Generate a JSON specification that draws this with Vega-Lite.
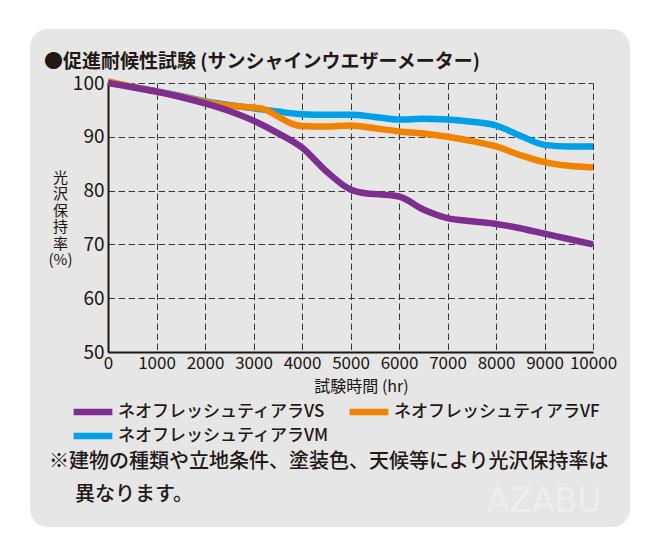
{
  "$schema": "https://vega.github.io/schema/vega-lite/v6.json",
  "width": 485,
  "height": 269,
  "autosize": {"type": "none"},
  "padding": {"left": 108, "top": 83, "right": 67, "bottom": 203},
  "background": "#ffffff",
  "config": {"view": {"stroke": null}, "font": "Noto Sans CJK JP"},
  "title": {
    "text": "●促進耐候性試験 (サンシャインウエザーメーター)",
    "anchor": "start",
    "frame": "group",
    "orient": "top",
    "dx": -64,
    "offset": -43,
    "font": "Noto Sans CJK JP",
    "fontSize": 19,
    "fontWeight": "bold",
    "color": "#231815"
  },
  "datasets": {
    "gloss": [
      {"hours": 0, "rate": 100.2, "product": "ネオフレッシュティアラVM"},
      {"hours": 500, "rate": 99.3, "product": "ネオフレッシュティアラVM"},
      {"hours": 1000, "rate": 98.5, "product": "ネオフレッシュティアラVM"},
      {"hours": 1500, "rate": 97.6, "product": "ネオフレッシュティアラVM"},
      {"hours": 2000, "rate": 96.6, "product": "ネオフレッシュティアラVM"},
      {"hours": 2500, "rate": 95.9, "product": "ネオフレッシュティアラVM"},
      {"hours": 3000, "rate": 95.3, "product": "ネオフレッシュティアラVM"},
      {"hours": 3500, "rate": 94.7, "product": "ネオフレッシュティアラVM"},
      {"hours": 4000, "rate": 94.2, "product": "ネオフレッシュティアラVM"},
      {"hours": 4500, "rate": 94.1, "product": "ネオフレッシュティアラVM"},
      {"hours": 5000, "rate": 94.1, "product": "ネオフレッシュティアラVM"},
      {"hours": 5500, "rate": 93.7, "product": "ネオフレッシュティアラVM"},
      {"hours": 6000, "rate": 93.2, "product": "ネオフレッシュティアラVM"},
      {"hours": 6500, "rate": 93.35, "product": "ネオフレッシュティアラVM"},
      {"hours": 7000, "rate": 93.2, "product": "ネオフレッシュティアラVM"},
      {"hours": 7500, "rate": 92.8, "product": "ネオフレッシュティアラVM"},
      {"hours": 8000, "rate": 92.1, "product": "ネオフレッシュティアラVM"},
      {"hours": 8500, "rate": 90.2, "product": "ネオフレッシュティアラVM"},
      {"hours": 9000, "rate": 88.5, "product": "ネオフレッシュティアラVM"},
      {"hours": 9500, "rate": 88.2, "product": "ネオフレッシュティアラVM"},
      {"hours": 10000, "rate": 88.2, "product": "ネオフレッシュティアラVM"},
      {"hours": 0, "rate": 100.3, "product": "ネオフレッシュティアラVF"},
      {"hours": 500, "rate": 99.3, "product": "ネオフレッシュティアラVF"},
      {"hours": 1000, "rate": 98.4, "product": "ネオフレッシュティアラVF"},
      {"hours": 1500, "rate": 97.5, "product": "ネオフレッシュティアラVF"},
      {"hours": 2000, "rate": 96.5, "product": "ネオフレッシュティアラVF"},
      {"hours": 2500, "rate": 95.8, "product": "ネオフレッシュティアラVF"},
      {"hours": 3000, "rate": 95.4, "product": "ネオフレッシュティアラVF"},
      {"hours": 3200, "rate": 95.2, "product": "ネオフレッシュティアラVF"},
      {"hours": 3500, "rate": 93.8, "product": "ネオフレッシュティアラVF"},
      {"hours": 3800, "rate": 92.4, "product": "ネオフレッシュティアラVF"},
      {"hours": 4000, "rate": 92.0, "product": "ネオフレッシュティアラVF"},
      {"hours": 4500, "rate": 91.9, "product": "ネオフレッシュティアラVF"},
      {"hours": 5000, "rate": 92.1, "product": "ネオフレッシュティアラVF"},
      {"hours": 5500, "rate": 91.6, "product": "ネオフレッシュティアラVF"},
      {"hours": 6000, "rate": 91.0, "product": "ネオフレッシュティアラVF"},
      {"hours": 6500, "rate": 90.6, "product": "ネオフレッシュティアラVF"},
      {"hours": 7000, "rate": 90.0, "product": "ネオフレッシュティアラVF"},
      {"hours": 7500, "rate": 89.2, "product": "ネオフレッシュティアラVF"},
      {"hours": 8000, "rate": 88.2, "product": "ネオフレッシュティアラVF"},
      {"hours": 8500, "rate": 86.6, "product": "ネオフレッシュティアラVF"},
      {"hours": 9000, "rate": 85.3, "product": "ネオフレッシュティアラVF"},
      {"hours": 9500, "rate": 84.6, "product": "ネオフレッシュティアラVF"},
      {"hours": 10000, "rate": 84.3, "product": "ネオフレッシュティアラVF"},
      {"hours": 0, "rate": 100.0, "product": "ネオフレッシュティアラVS"},
      {"hours": 500, "rate": 99.2, "product": "ネオフレッシュティアラVS"},
      {"hours": 1000, "rate": 98.4, "product": "ネオフレッシュティアラVS"},
      {"hours": 1500, "rate": 97.4, "product": "ネオフレッシュティアラVS"},
      {"hours": 2000, "rate": 96.2, "product": "ネオフレッシュティアラVS"},
      {"hours": 2500, "rate": 94.8, "product": "ネオフレッシュティアラVS"},
      {"hours": 3000, "rate": 93.0, "product": "ネオフレッシュティアラVS"},
      {"hours": 3500, "rate": 90.7, "product": "ネオフレッシュティアラVS"},
      {"hours": 4000, "rate": 88.0, "product": "ネオフレッシュティアラVS"},
      {"hours": 4500, "rate": 83.6, "product": "ネオフレッシュティアラVS"},
      {"hours": 5000, "rate": 80.2, "product": "ネオフレッシュティアラVS"},
      {"hours": 5300, "rate": 79.5, "product": "ネオフレッシュティアラVS"},
      {"hours": 5600, "rate": 79.3, "product": "ネオフレッシュティアラVS"},
      {"hours": 6000, "rate": 78.9, "product": "ネオフレッシュティアラVS"},
      {"hours": 6500, "rate": 76.5, "product": "ネオフレッシュティアラVS"},
      {"hours": 7000, "rate": 74.9, "product": "ネオフレッシュティアラVS"},
      {"hours": 7500, "rate": 74.3, "product": "ネオフレッシュティアラVS"},
      {"hours": 8000, "rate": 73.8, "product": "ネオフレッシュティアラVS"},
      {"hours": 8500, "rate": 73.0, "product": "ネオフレッシュティアラVS"},
      {"hours": 9000, "rate": 72.0, "product": "ネオフレッシュティアラVS"},
      {"hours": 9500, "rate": 71.0, "product": "ネオフレッシュティアラVS"},
      {"hours": 10000, "rate": 70.0, "product": "ネオフレッシュティアラVS"}
    ]
  },
  "layer": [
    {
      "data": {"values": [{}]},
      "mark": {"type": "rect", "fill": "#000000", "fillOpacity": 0.098, "cornerRadius": 18, "clip": false},
      "encoding": {
        "x": {"datum": -1608, "type": "quantitative", "scale": {"domain": [0, 10000], "nice": false, "zero": false}},
        "x2": {"datum": 10763},
        "y": {"datum": 110.04, "type": "quantitative", "scale": {"domain": [50, 100], "nice": false, "zero": false}},
        "y2": {"datum": 17.47}
      }
    },
    {
      "data": {"name": "gloss"},
      "mark": {"type": "line", "strokeWidth": 6.5, "interpolate": "monotone", "strokeCap": "butt", "clip": false},
      "encoding": {
        "x": {
          "field": "hours",
          "type": "quantitative",
          "scale": {"domain": [0, 10000], "nice": false, "zero": false},
          "axis": {
            "values": [0, 1000, 2000, 3000, 4000, 5000, 6000, 7000, 8000, 9000, 10000],
            "format": "d",
            "title": "試験時間 (hr)",
            "grid": true,
            "gridDash": [6.5, 3.5],
            "gridColor": "#3f3f3f",
            "gridWidth": 1,
            "domainColor": "#231815",
            "domainWidth": 2,
            "ticks": false,
            "labelFont": "Noto Sans CJK JP",
            "labelFontSize": 17,
            "labelColor": "#231815",
            "labelPadding": 3,
            "labelFlush": false,
            "labelOverlap": false,
            "titleFont": "Noto Sans CJK JP",
            "titleFontSize": 16,
            "titleFontWeight": "normal",
            "titleColor": "#231815",
            "titleX": 253,
            "titleY": 34,
            "titleBaseline": "middle",
            "titleAlign": "center"
          }
        },
        "y": {
          "field": "rate",
          "type": "quantitative",
          "scale": {"domain": [50, 100], "nice": false, "zero": false},
          "axis": {
            "values": [50, 60, 70, 80, 90, 100],
            "title": ["光", "沢", "保", "持", "率", "(%)"],
            "grid": true,
            "gridDash": [6.5, 3.5],
            "gridColor": "#3f3f3f",
            "gridWidth": 1,
            "domainColor": "#231815",
            "domainWidth": 2,
            "ticks": false,
            "labelFont": "Noto Sans CJK JP",
            "labelFontSize": 19,
            "labelColor": "#231815",
            "labelPadding": 4,
            "labelFlush": false,
            "titleFont": "Noto Sans CJK JP",
            "titleFontSize": 15,
            "titleFontWeight": "normal",
            "titleColor": "#231815",
            "titleAngle": 0,
            "titleX": -48,
            "titleY": 87,
            "titleBaseline": "top",
            "titleAlign": "center",
            "titleLineHeight": 16.5
          }
        },
        "color": {
          "field": "product",
          "type": "nominal",
          "scale": {
            "domain": ["ネオフレッシュティアラVS", "ネオフレッシュティアラVF", "ネオフレッシュティアラVM"],
            "range": ["#7d2e8e", "#f08300", "#00a0e9"]
          },
          "legend": {
            "title": null,
            "orient": "none",
            "direction": "horizontal",
            "legendX": -26,
            "legendY": 318,
            "columns": 2,
            "columnPadding": 6,
            "rowPadding": -6,
            "padding": 0,
            "symbolType": "M-2.5,0H2.5",
            "symbolSize": 240,
            "symbolStrokeWidth": 6.5,
            "labelOffset": 14,
            "labelFont": "Noto Sans CJK JP",
            "labelFontSize": 17,
            "labelFontWeight": 500,
            "labelColor": "#231815",
            "labelLimit": 400
          }
        },
        "order": {"field": "hours", "type": "quantitative"}
      }
    },
    {
      "data": {"values": [{}]},
      "mark": {
        "type": "text",
        "text": "※建物の種類や立地条件、塗装色、天候等により光沢保持率は",
        "align": "left",
        "baseline": "middle",
        "font": "Noto Sans CJK JP",
        "fontSize": 20,
        "fontWeight": 500,
        "fill": "#231815",
        "clip": false
      },
      "encoding": {
        "x": {"datum": -1216, "type": "quantitative", "scale": {"domain": [0, 10000], "nice": false, "zero": false}},
        "y": {"datum": 29.55, "type": "quantitative", "scale": {"domain": [50, 100], "nice": false, "zero": false}}
      }
    },
    {
      "data": {"values": [{}]},
      "mark": {
        "type": "text",
        "text": "異なります。",
        "align": "left",
        "baseline": "middle",
        "font": "Noto Sans CJK JP",
        "fontSize": 20,
        "fontWeight": 500,
        "fill": "#231815",
        "clip": false
      },
      "encoding": {
        "x": {"datum": -680, "type": "quantitative", "scale": {"domain": [0, 10000], "nice": false, "zero": false}},
        "y": {"datum": 23.42, "type": "quantitative", "scale": {"domain": [50, 100], "nice": false, "zero": false}}
      }
    },
    {
      "data": {"values": [{}]},
      "mark": {
        "type": "text",
        "text": "AZABU",
        "align": "center",
        "baseline": "middle",
        "font": "DejaVu Sans",
        "fontSize": 33,
        "fill": "#ffffff",
        "opacity": 0.35,
        "clip": false
      },
      "encoding": {
        "x": {"datum": 8990, "type": "quantitative", "scale": {"domain": [0, 10000], "nice": false, "zero": false}},
        "y": {"datum": 22.12, "type": "quantitative", "scale": {"domain": [50, 100], "nice": false, "zero": false}}
      }
    }
  ]
}
